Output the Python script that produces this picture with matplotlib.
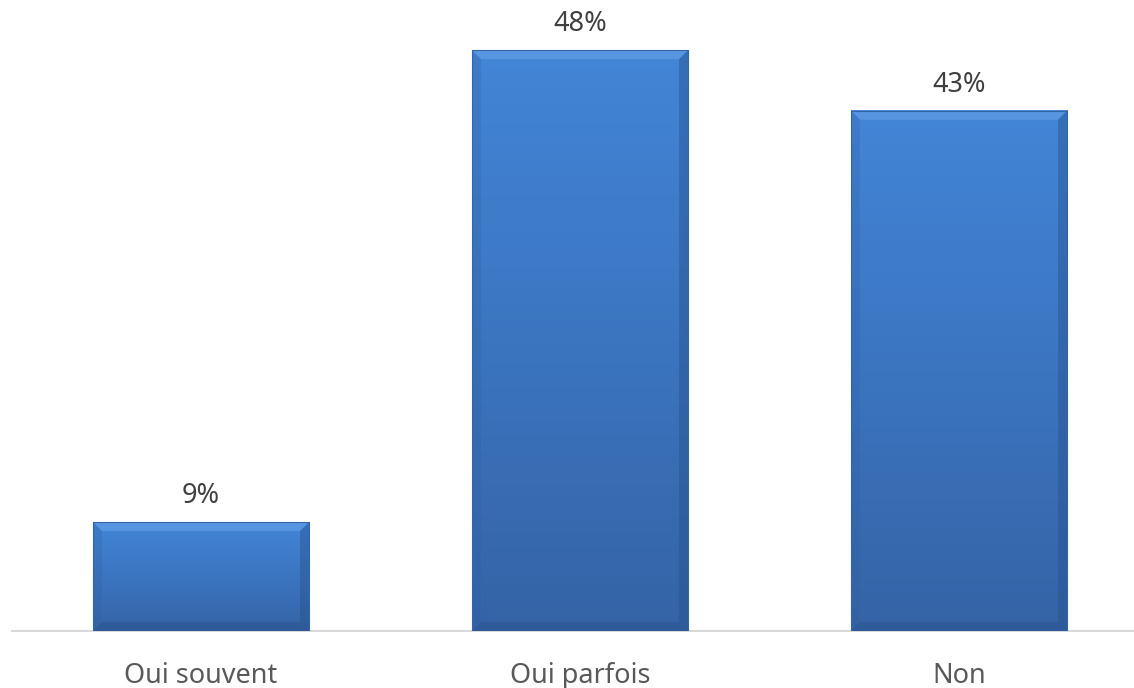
import matplotlib
matplotlib.use("Agg")
import matplotlib.pyplot as plt
import numpy as np
from matplotlib.patches import Polygon
from matplotlib.colors import LinearSegmentedColormap

categories = ["Oui souvent", "Oui parfois", "Non"]
values = [9, 48, 43]
value_labels = ["9%", "48%", "43%"]

FONT = ["Noto Sans", "DejaVu Sans"]

W, H = 1134, 688
fig = plt.figure(figsize=(W / 100, H / 100), dpi=100)
ax_left = 11.5 / W
ax_w = 1137 / W
ax_bottom = (H - 631) / H
ax_h = 631 / H
ax = fig.add_axes([ax_left, ax_bottom, ax_w, ax_h])
ax.set_xlim(-0.5, 2.5)
ax.set_ylim(0, 631 / 12.1)

x = np.arange(len(categories))
bw = 0.57
bars = ax.bar(x, values, width=bw, color="none", edgecolor="none", zorder=2)

cmap = LinearSegmentedColormap.from_list("g", ["#3563a6", "#3b75c0", "#4385d7"])
grad = np.linspace(0, 1, 256).reshape(-1, 1)
px_x = 1.0 / 379
px_y = (631 / 12.1) / 631
bev = 9
for b in bars:
    x0, y0 = b.get_x(), b.get_y()
    w, h = b.get_width(), b.get_height()
    x1, y1 = x0 + w, y0 + h
    ax.imshow(grad, extent=[x0, x1, y0, y1], origin="lower", cmap=cmap,
              aspect="auto", zorder=2, interpolation="bicubic")
    dx, dy = bev * px_x, bev * px_y
    ax.add_patch(Polygon([[x0, y1], [x1, y1], [x1 - dx, y1 - dy], [x0 + dx, y1 - dy]],
                         closed=True, facecolor="#6aa4ea", edgecolor="none", alpha=0.55, zorder=3))
    ax.add_patch(Polygon([[x0, y0], [x0, y1], [x0 + dx, y1 - dy], [x0 + dx, y0 + dy]],
                         closed=True, facecolor="#2f5f9f", edgecolor="none", alpha=0.25, zorder=3))
    ax.add_patch(Polygon([[x1, y0], [x1, y1], [x1 - dx, y1 - dy], [x1 - dx, y0 + dy]],
                         closed=True, facecolor="#254f88", edgecolor="none", alpha=0.4, zorder=3))
    ax.add_patch(Polygon([[x0, y0], [x1, y0], [x1 - dx, y0 + dy], [x0 + dx, y0 + dy]],
                         closed=True, facecolor="#26508a", edgecolor="none", alpha=0.45, zorder=3))
    ax.add_patch(Polygon([[x0, y0], [x1, y0], [x1, y1], [x0, y1]], closed=True,
                         facecolor="none", edgecolor="#3465a8", linewidth=0.8, zorder=4))

for xi, v, lab in zip(x, values, value_labels):
    ax.annotate(lab, (xi, v), xytext=(0, 13.7), textcoords="offset points",
                ha="center", va="baseline", fontsize=19.5, color="#404040",
                family=FONT)

for s in ["top", "right", "left"]:
    ax.spines[s].set_visible(False)
ax.spines["bottom"].set_color("#d9d9d9")
ax.spines["bottom"].set_linewidth(1.5)
ax.spines["bottom"].set_zorder(1)
ax.set_yticks([])
ax.set_xticks(x)
ax.set_xticklabels(categories, fontsize=19.5, color="#595959", family=FONT,
                   va="baseline")
ax.tick_params(axis="x", length=0, pad=37.4)
ax.patch.set_alpha(0)

fig.savefig("out.png", dpi=100, facecolor="white")
